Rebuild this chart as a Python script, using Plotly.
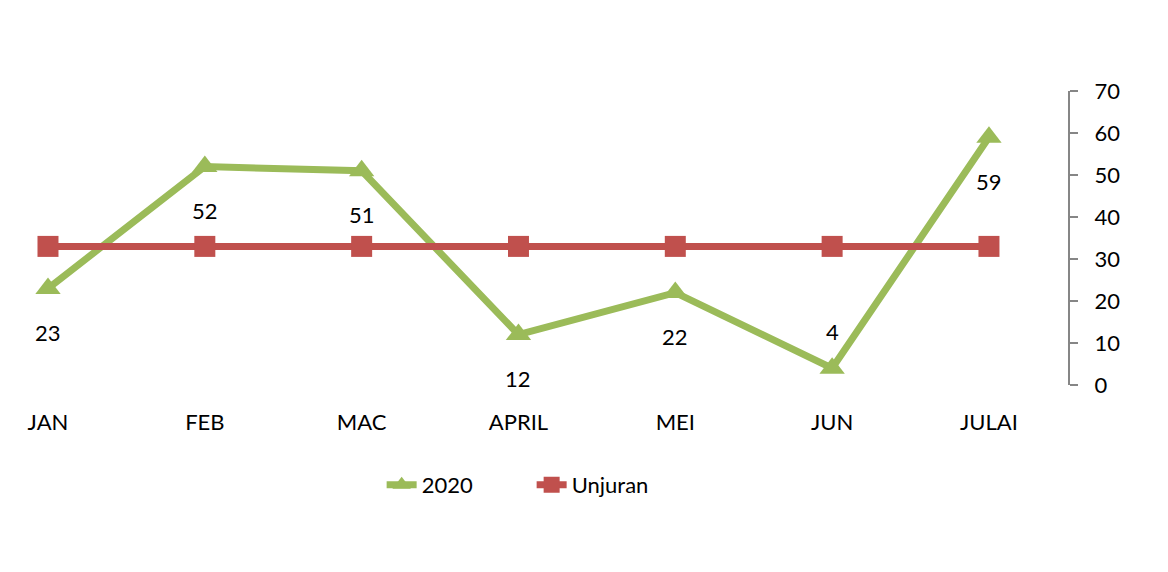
import plotly.graph_objects as go

# data
bulan = ['JAN', 'FEB', 'MAC', 'APRIL', 'MEI', 'JUN', 'JULAI']
nilai_2020 = [23, 52, 51, 12, 22, 4, 59]
unjuran = [33, 33, 33, 33, 33, 33, 33]
y_ticks = [0, 10, 20, 30, 40, 50, 60, 70]

hijau = '#9BBB59'
merah = '#C0504D'
fon = 'Lato, Open Sans, sans-serif'

fig = go.Figure()
fig.add_trace(go.Scatter(x=list(range(len(bulan))), y=nilai_2020, name='2020', mode='lines+markers',
                         line=dict(color=hijau, width=7),
                         marker=dict(symbol='triangle-up', size=22, color=hijau)))
fig.add_trace(go.Scatter(x=list(range(len(bulan))), y=unjuran, name='Unjuran', mode='lines+markers',
                         line=dict(color=merah, width=7),
                         marker=dict(symbol='square', size=21, color=merah)))

# label data (yang "4" di atas titik)
for i, v in enumerate(nilai_2020):
    fig.add_annotation(x=i, y=v, text=str(v), showarrow=False,
                       yshift=37 if v < 10 else -44,
                       font=dict(size=22, color='black', family=fon))

fig.update_xaxes(range=[-0.255, 6.504], tickvals=list(range(len(bulan))), ticktext=bulan,
                 showgrid=False, zeroline=False, showline=False, ticks='',
                 ticklabelstandoff=22, tickfont=dict(size=22, color='black', family=fon))
fig.update_yaxes(range=[0, 70], tickvals=y_ticks, side='right', showgrid=False, zeroline=False,
                 showline=True, linecolor='#868686', linewidth=2, ticks='outside', ticklen=8,
                 tickcolor='#868686', tickwidth=2, ticklabelstandoff=12,
                 tickfont=dict(size=22, color='black', family=fon))

# halaman punya margin 8px, jadi semua digeser 8px ke kiri/atas
fig.update_layout(width=1168, height=572, plot_bgcolor='white', paper_bgcolor='white',
                  margin=dict(l=0, r=108, t=83, b=195),
                  showlegend=True,
                  legend=dict(orientation='h', x=0.494, xanchor='center', y=-0.34, yanchor='middle',
                              font=dict(size=22, color='black', family=fon),
                              entrywidth=105, entrywidthmode='pixels'))

fig.write_html('out.html')
